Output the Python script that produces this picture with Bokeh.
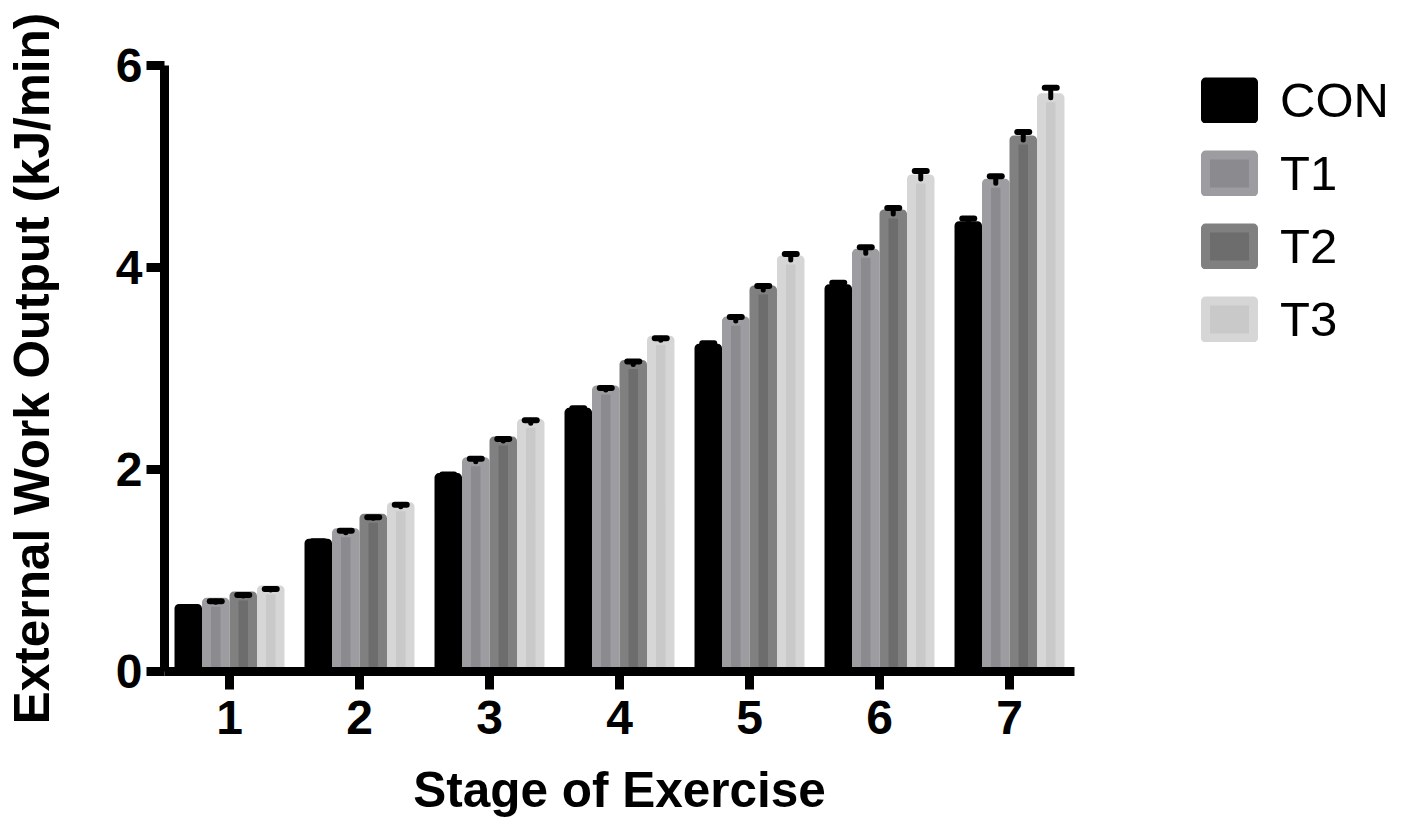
from bokeh.plotting import figure
from bokeh.models import Range1d, FixedTicker, Legend, LegendItem, Whisker, TeeHead, ColumnDataSource
from bokeh.embed import file_html
from bokeh.resources import INLINE

stages = [1, 2, 3, 4, 5, 6, 7]
stage_labels = ["1", "2", "3", "4", "5", "6", "7"]
groups = ["CON", "T1", "T2", "T3"]

con = [0.625, 1.27, 1.92, 2.566, 3.20, 3.79, 4.414]
t1 = [0.685, 1.374, 2.077, 2.787, 3.47, 4.14, 4.834]
t2 = [0.747, 1.517, 2.282, 3.04, 3.777, 4.53, 5.262]
t3 = [0.807, 1.632, 2.457, 3.28, 4.074, 4.876, 5.68]

con_err = [0.01, 0.02, 0.03, 0.04, 0.05, 0.06, 0.07]
t1_err = [0.01, 0.02, 0.03, 0.02, 0.04, 0.06, 0.07]
t2_err = [0.01, 0.01, 0.02, 0.03, 0.04, 0.06, 0.08]
t3_err = [0.01, 0.02, 0.03, 0.02, 0.06, 0.08, 0.10]

y_ticks = [0, 2, 4, 6]

series = [con, t1, t2, t3]
errors = [con_err, t1_err, t2_err, t3_err]
outer_colors = ["#000000", "#9d9da1", "#808080", "#d6d6d6"]
inner_colors = ["#000000", "#8b8b8f", "#6d6d6d", "#c9c9c9"]

FONT = "Liberation Sans"

p = figure(frame_width=910, frame_height=606,
           x_range=Range1d(0.5, 7.5), y_range=Range1d(0, 6),
           output_backend="svg", toolbar_location=None,
           min_border_left=154, min_border_top=65, min_border_right=0,
           min_border_bottom=5)
p.outline_line_color = None
p.xgrid.visible = False
p.ygrid.visible = False
p.background_fill_color = "white"
p.border_fill_color = "white"

slot = 0.2115
bar_w = 0.1423
items = []
for i, (name, vals, errs) in enumerate(zip(groups, series, errors)):
    xs = [s + (i - 1.5) * slot for s in stages]
    src = ColumnDataSource(dict(x=xs, top=vals, up=[v + e for v, e in zip(vals, errs)]))
    r = p.vbar(x="x", top="top", bottom=0, width=bar_w, source=src,
               fill_color=inner_colors[i], line_color=outer_colors[i],
               line_width=9, line_join="round")
    items.append(LegendItem(label=name, renderers=[r]))
    w = Whisker(source=src, base="x", lower="top", upper="up", dimension="height",
                line_color="black", line_width=5, line_cap="round",
                upper_head=TeeHead(size=12, line_width=6, line_color="black", line_cap="round"),
                lower_head=None, level="overlay")
    p.add_layout(w)

for ax in (p.xaxis[0], p.yaxis[0]):
    ax.axis_line_width = 9
    ax.axis_line_color = "black"
    ax.major_tick_line_width = 9
    ax.major_tick_line_color = "black"
    ax.major_tick_out = 18
    ax.major_tick_in = 0
    ax.minor_tick_line_color = None
    ax.major_label_text_font = FONT
    ax.major_label_text_font_style = "bold"
    ax.major_label_text_font_size = "48px"
    ax.major_label_text_color = "black"
    ax.axis_label_text_font = FONT
    ax.axis_label_text_font_style = "bold"
    ax.axis_label_text_font_size = "49.5px"
    ax.axis_label_text_color = "black"

p.xaxis.ticker = FixedTicker(ticks=stages)
p.xaxis.major_label_overrides = {s: l for s, l in zip(stages, stage_labels)}
p.yaxis.ticker = FixedTicker(ticks=y_ticks)
p.xaxis.axis_label = "Stage of Exercise"
p.yaxis.axis_label = "External Work Output (kJ/min)"
p.xaxis.major_label_standoff = 11
p.yaxis.major_label_standoff = 4
p.xaxis.axis_label_standoff = 25
p.yaxis.axis_label_standoff = 54

legend = Legend(items=items, location="top_left")
legend.glyph_width = 60
legend.glyph_height = 46
legend.label_height = 73
legend.spacing = 0
legend.padding = 0
legend.margin = 0
legend.label_standoff = 21
legend.border_line_color = None
legend.background_fill_alpha = 0
legend.label_text_font = FONT
legend.label_text_font_size = "49px"
legend.label_text_color = "black"
p.add_layout(legend, "right")
legend.location = (125, 316)

open("out.html", "w").write(file_html(p, INLINE))
